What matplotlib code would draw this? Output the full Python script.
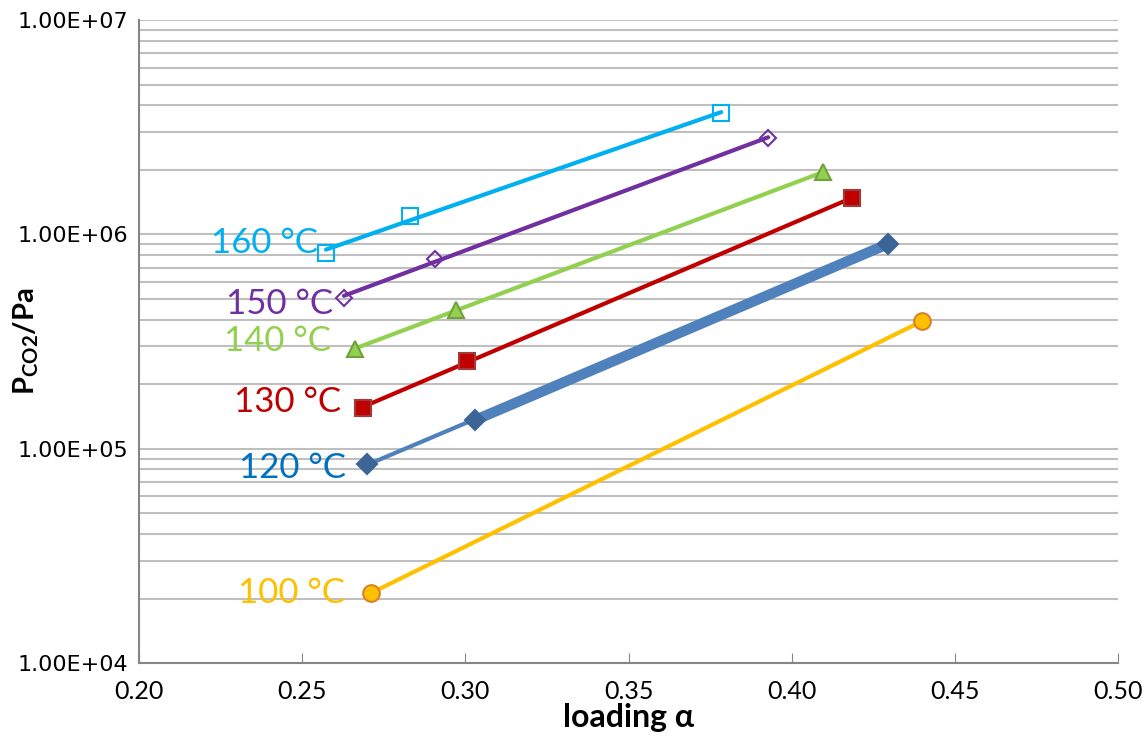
import numpy as np
import matplotlib
matplotlib.use('Agg')
import matplotlib.pyplot as plt
from matplotlib.ticker import LogLocator, NullFormatter

plt.rcParams['font.family'] = ['Lato', 'DejaVu Sans']
plt.rcParams['mathtext.fontset'] = 'custom'
plt.rcParams['mathtext.rm'] = 'Lato'
plt.rcParams['mathtext.bf'] = 'Lato:bold'

# data
labels = ['160 °C', '150 °C', '140 °C', '130 °C', '120 °C', '100 °C']
x160 = [0.2573, 0.2830, 0.3784]
y160 = [8.18e5, 1.218e6, 3.68e6]
x150 = [0.2628, 0.2907, 0.3928]
y150 = [5.05e5, 7.67e5, 2.82e6]
x140 = [0.2662, 0.2971, 0.4096]
y140 = [2.92e5, 4.44e5, 1.95e6]
x130 = [0.2686, 0.3005, 0.4185]
y130 = [1.55e5, 2.56e5, 1.477e6]
x120 = [0.2699, 0.3030, 0.4295]
y120 = [8.48e4, 1.36e5, 9.02e5]
x100 = [0.2711, 0.4400]
y100 = [2.12e4, 3.94e5]

xs = [x160, x150, x140, x130, x120, x100]
ys = [y160, y150, y140, y130, y120, y100]

line_col = ['#00B0F0', '#7030A0', '#92D050', '#C00000', '#4F81BD', '#FFC000']
text_col = ['#00B0F0', '#7030A0', '#92D050', '#C00000', '#0070C0', '#FFC000']
mk = ['s', 'D', '^', 's', 'D', 'o']
mk_face = ['none', 'none', '#92D050', '#C00000', '#3C6496', '#FFC000']
mk_edge = ['#00B0F0', '#7030A0', '#71A03C', '#A33A3A', '#3C6496', '#D9822B']
mk_size = [12, 8, 12, 11, 10, 12]
# label offset from first point, in points
lab_off = [(-6, 7), (-8, -4), (-17, 6), (-16, 4), (-15, -3), (-19, 0)]

fig = plt.figure(figsize=(11.46, 7.47), dpi=100)
ax = fig.add_axes([0.1213, 0.1124, 0.8543, 0.8608])
ax.set_yscale('log')
ax.set_xlim(0.2, 0.5)
ax.set_ylim(1e4, 1e7)

for i in range(len(xs)):
    x = np.array(xs[i])
    y = np.array(ys[i])
    k, b = np.polyfit(x, np.log10(y), 1)
    xf = np.array([x.min(), x.max()])
    ax.plot(xf, 10 ** (k * xf + b), color=line_col[i], lw=3, zorder=3,
            solid_capstyle='round')
    if labels[i] == '120 °C':
        ax.plot(x[1:], y[1:], color=line_col[i], lw=7.5, zorder=3)
    ax.plot(x, y, ls='none', marker=mk[i], ms=mk_size[i], mfc=mk_face[i],
            mec=mk_edge[i], mew=1.5, zorder=4)
    ax.annotate(labels[i], (x[0], y[0]), xytext=lab_off[i],
                textcoords='offset points', ha='right', va='center',
                color=text_col[i], fontsize=25)

ax.yaxis.set_minor_locator(LogLocator(base=10, subs=np.arange(2, 10), numticks=10))
ax.yaxis.set_minor_formatter(NullFormatter())
ax.set_yticks([1e4, 1e5, 1e6, 1e7])
ax.set_yticklabels(['1.00E+04', '1.00E+05', '1.00E+06', '1.00E+07'],
                   family='DejaVu Sans', fontsize=16)
xt = np.arange(0.2, 0.501, 0.05)
ax.set_xticks(xt)
ax.set_xticklabels(['%.2f' % v for v in xt], fontsize=18)

ax.grid(True, which='both', axis='y', color='#BFBFBF', lw=1.5, zorder=0)
ax.tick_params(axis='x', direction='in', length=7, color='#868686', pad=12)
ax.tick_params(axis='y', which='both', length=0, pad=8)
for s in ['top', 'right']:
    ax.spines[s].set_visible(False)
for s in ['left', 'bottom']:
    ax.spines[s].set_color('#868686')
    ax.spines[s].set_linewidth(1.5)

ax.set_xlabel('loading α', fontsize=23, fontweight='bold', labelpad=0)
ax.set_ylabel(r'$\mathbf{P_{CO2}/Pa}$', fontsize=21)
ax.yaxis.set_label_coords(-0.10, 0.5)

fig.savefig('out.png', dpi=100)
